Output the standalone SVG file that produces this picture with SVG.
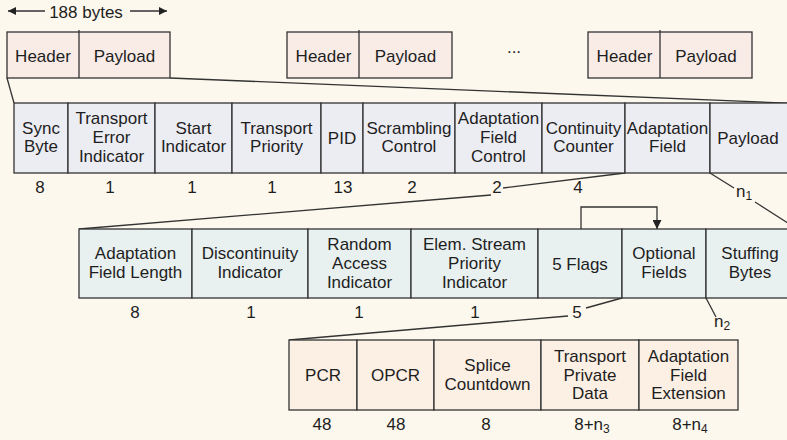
<svg xmlns="http://www.w3.org/2000/svg" width="787" height="440" viewBox="0 0 787 440">
<defs>
<style>
.bg{fill:#fdf8ed}
.b{stroke:#333;stroke-width:1.3}
.p0{fill:#f9ece7}
.p1{fill:#ececf3}
.p2{fill:#e9f0f0}
.p3{fill:#fcefe3}
text{font-family:"Liberation Sans",Arial,sans-serif;font-size:17px;fill:#1e1e1e;text-anchor:middle}
.ln{fill:none;stroke:#333;stroke-width:1.3}
.sub{font-size:12px}
</style>
<marker id="ah" viewBox="0 0 10 10" refX="10" refY="5" markerWidth="8" markerHeight="8" markerUnits="userSpaceOnUse" orient="auto">
<path d="M0,0 L10,5 L0,10 Z" fill="#222"/>
</marker>
<marker id="ah2" viewBox="0 0 10 10" refX="10" refY="5" markerWidth="9" markerHeight="9" markerUnits="userSpaceOnUse" orient="auto">
<path d="M0,0 L10,5 L0,10 Z" fill="#222"/>
</marker>
</defs>
<rect class="bg" x="0" y="0" width="787" height="440"/>

<g id="size-label">
<line class="ln" x1="45" y1="11" x2="8" y2="11" marker-end="url(#ah)"/>
<text x="86" y="18">188 bytes</text>
<line class="ln" x1="130" y1="11" x2="167" y2="11" marker-end="url(#ah)"/>
</g>

<g id="connectors">
<line class="ln" x1="7" y1="78" x2="14" y2="103"/>
<line class="ln" x1="170" y1="78" x2="810" y2="104"/>
<polyline class="ln" points="79,229 491,195"/>
<polyline class="ln" points="503,188 625,173"/>
<polyline class="ln" points="710,173 734,188"/>
<polyline class="ln" points="755,202 797,229"/>
<polyline class="ln" points="289,340 568,316"/>
<polyline class="ln" points="586,308 622,298"/>
<polyline class="ln" points="706,298 716,317"/>
<polyline class="ln" points="581,229 581,207 657,207 657,229" marker-end="url(#ah2)"/>
</g>

<g id="packet1">
<rect class="b p0" x="7" y="32" width="163" height="46"/>
<line class="b" x1="79" y1="30" x2="79" y2="78"/>
<text x="43" y="61.5">Header</text>
<text x="124.5" y="61.5">Payload</text>
</g>
<g id="packet2">
<rect class="b p0" x="287" y="32" width="165" height="46"/>
<line class="b" x1="359" y1="30" x2="359" y2="78"/>
<text x="323.5" y="61.5">Header</text>
<text x="405.5" y="61.5">Payload</text>
</g>
<g id="ellipsis"><text x="514" y="53">...</text></g>
<g id="packet3">
<rect class="b p0" x="588" y="32" width="164" height="46"/>
<line class="b" x1="660" y1="30" x2="660" y2="78"/>
<text x="624.5" y="61.5">Header</text>
<text x="706" y="61.5">Payload</text>
</g>

<!-- Row 2: header fields -->
<g id="sync-byte"><rect class="b p1" x="14" y="103" width="54" height="70"/><text x="41" y="133.6">Sync</text><text x="41" y="152.3">Byte</text></g>
<g id="tei"><rect class="b p1" x="68" y="103" width="87" height="70"/><text x="111.5" y="124.3">Transport</text><text x="111.5" y="143">Error</text><text x="111.5" y="161.7">Indicator</text></g>
<g id="start-ind"><rect class="b p1" x="155" y="103" width="77" height="70"/><text x="193.5" y="133.6">Start</text><text x="193.5" y="152.3">Indicator</text></g>
<g id="tp"><rect class="b p1" x="232" y="103" width="89" height="70"/><text x="276.5" y="133.6">Transport</text><text x="276.5" y="152.3">Priority</text></g>
<g id="pid"><rect class="b p1" x="321" y="103" width="42" height="70"/><text x="342" y="144">PID</text></g>
<g id="scr"><rect class="b p1" x="363" y="103" width="92" height="70"/><text x="409" y="133.6">Scrambling</text><text x="409" y="152.3">Control</text></g>
<g id="afc"><rect class="b p1" x="455" y="103" width="87" height="70"/><text x="498.5" y="124.3">Adaptation</text><text x="498.5" y="143">Field</text><text x="498.5" y="161.7">Control</text></g>
<g id="cc"><rect class="b p1" x="542" y="103" width="83" height="70"/><text x="583.5" y="133.6">Continuity</text><text x="583.5" y="152.3">Counter</text></g>
<g id="af"><rect class="b p1" x="625" y="103" width="85" height="70"/><text x="667.5" y="133.6">Adaptation</text><text x="667.5" y="152.3">Field</text></g>
<g id="payload"><rect class="b p1" x="710" y="103" width="90" height="70"/><text x="748" y="144">Payload</text></g>

<g id="row2-sizes">
<text x="40" y="193">8</text>
<text x="110" y="193">1</text>
<text x="192" y="193">1</text>
<text x="272" y="193">1</text>
<text x="343" y="193">13</text>
<text x="412" y="193">2</text>
<text x="497" y="193">2</text>
<text x="578" y="193">4</text>
<text x="744" y="197">n<tspan class="sub" dy="3">1</tspan></text>
</g>

<!-- Row 3: adaptation field -->
<g id="afl"><rect class="b p2" x="79" y="229" width="113" height="69"/><text x="135.5" y="259">Adaptation</text><text x="135.5" y="277.7">Field Length</text></g>
<g id="disc"><rect class="b p2" x="192" y="229" width="116" height="69"/><text x="250" y="259">Discontinuity</text><text x="250" y="277.7">Indicator</text></g>
<g id="rai"><rect class="b p2" x="308" y="229" width="103" height="69"/><text x="359.5" y="250.3">Random</text><text x="359.5" y="269">Access</text><text x="359.5" y="287.7">Indicator</text></g>
<g id="espi"><rect class="b p2" x="411" y="229" width="127" height="69"/><text x="474.5" y="250.3">Elem. Stream</text><text x="474.5" y="269">Priority</text><text x="474.5" y="287.7">Indicator</text></g>
<g id="flags"><rect class="b p2" x="538" y="229" width="84" height="69"/><text x="580" y="269.5">5 Flags</text></g>
<g id="optional"><rect class="b p2" x="622" y="229" width="84" height="69"/><text x="664" y="259">Optional</text><text x="664" y="277.7">Fields</text></g>
<g id="stuffing"><rect class="b p2" x="706" y="229" width="94" height="69"/><text x="750" y="259">Stuffing</text><text x="750" y="277.7">Bytes</text></g>

<g id="row3-sizes">
<text x="135" y="318">8</text>
<text x="251" y="318">1</text>
<text x="359" y="318">1</text>
<text x="475" y="318">1</text>
<text x="577" y="318">5</text>
<text x="722" y="327">n<tspan class="sub" dy="3">2</tspan></text>
</g>

<!-- Row 4: optional fields -->
<g id="pcr"><rect class="b p3" x="289" y="340" width="68" height="70"/><text x="323" y="381">PCR</text></g>
<g id="opcr"><rect class="b p3" x="357" y="340" width="77" height="70"/><text x="395.5" y="381">OPCR</text></g>
<g id="splice"><rect class="b p3" x="434" y="340" width="107" height="70"/><text x="487.5" y="371.2">Splice</text><text x="487.5" y="389.9">Countdown</text></g>
<g id="tpd"><rect class="b p3" x="541" y="340" width="98" height="70"/><text x="590" y="361.8">Transport</text><text x="590" y="380.5">Private</text><text x="590" y="399.2">Data</text></g>
<g id="afe"><rect class="b p3" x="639" y="340" width="99" height="70"/><text x="688.5" y="361.8">Adaptation</text><text x="688.5" y="380.5">Field</text><text x="688.5" y="399.2">Extension</text></g>

<g id="row4-sizes">
<text x="322" y="430">48</text>
<text x="396" y="430">48</text>
<text x="486" y="430">8</text>
<text x="592" y="430">8+n<tspan class="sub" dy="3">3</tspan></text>
<text x="690" y="430">8+n<tspan class="sub" dy="3">4</tspan></text>
</g>
</svg>
